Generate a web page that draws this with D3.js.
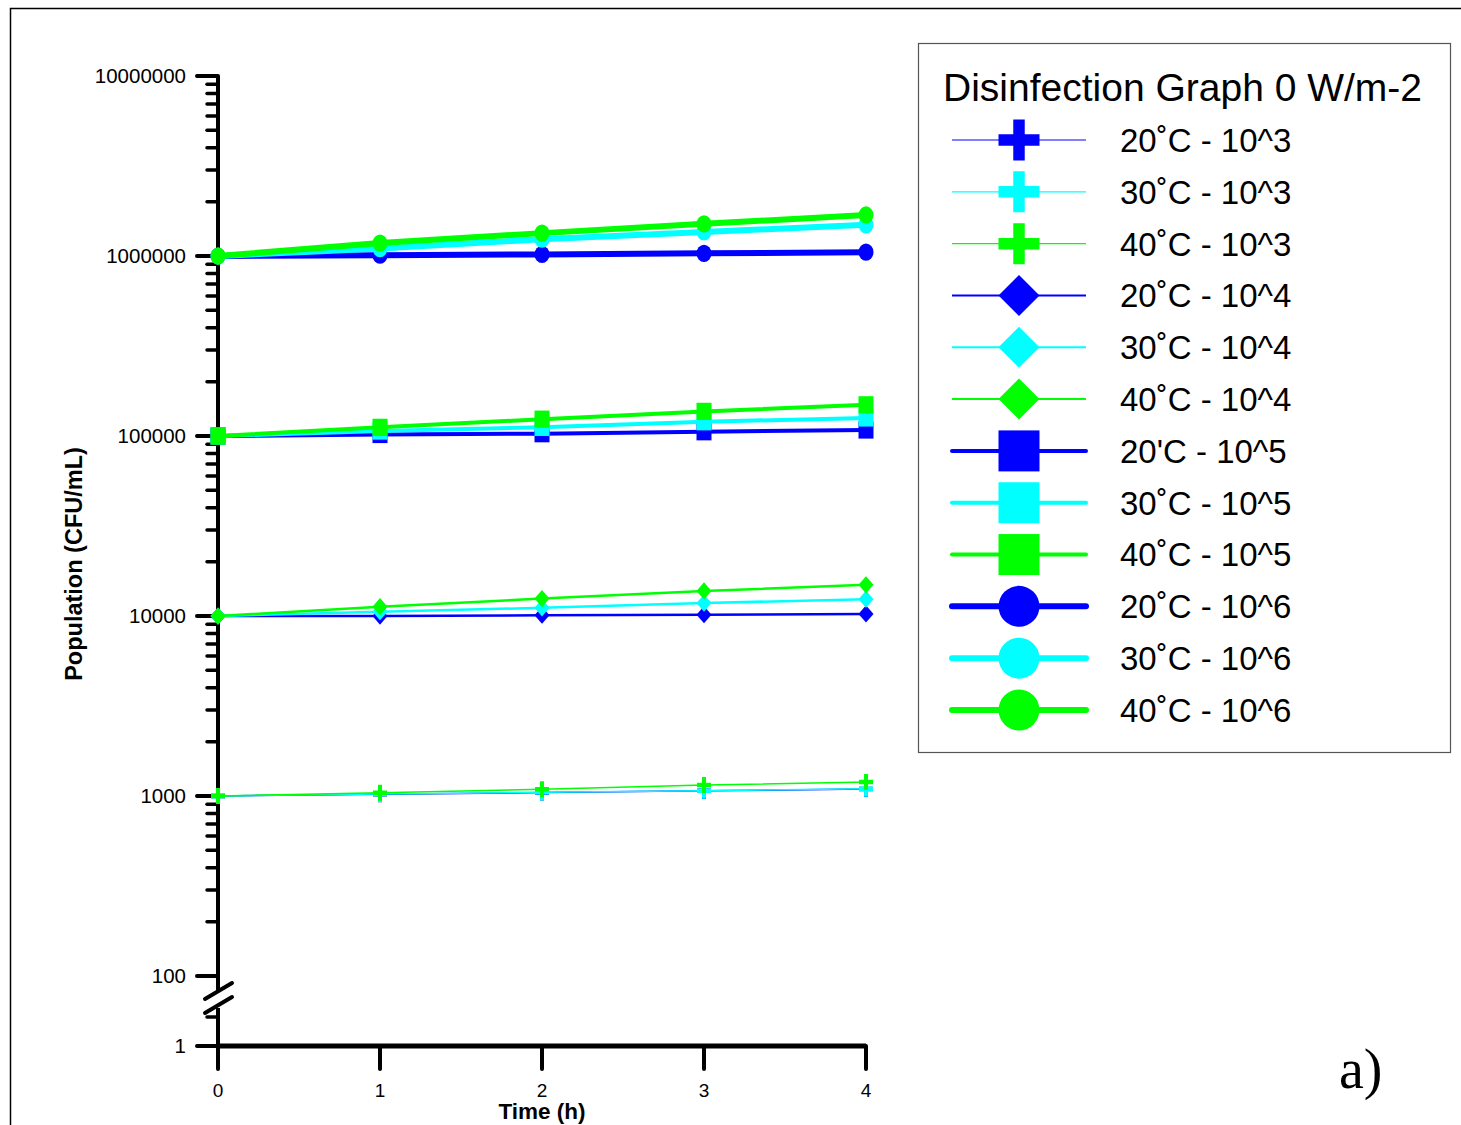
<!DOCTYPE html>
<html>
<head>
<meta charset="utf-8">
<script src="https://cdn.jsdelivr.net/npm/d3@7"></script>
<style>
  body { margin: 0; background: #fff; }
  svg { display: block; font-family: "Liberation Sans", Arial, sans-serif; }
</style>
</head>
<body>
<svg id="chart" width="1461" height="1125"></svg>
<script>
// data
const hours = [0, 1, 2, 3, 4];
const yTicks = [100, 1000, 10000, 100000, 1000000, 10000000];
const lowTicks = [1];

const c20_3 = [1000, 1022, 1045, 1068, 1095];
const c30_3 = [1000, 1026, 1048, 1070, 1098];
const c40_3 = [1000, 1043, 1090, 1150, 1196];
const c20_4 = [10000, 10000, 10100, 10170, 10260];
const c30_4 = [10000, 10570, 11100, 11800, 12400];
const c40_4 = [10000, 11260, 12500, 13770, 14900];
const c20_5 = [100000, 102000, 103000, 105600, 108000];
const c30_5 = [100000, 106600, 111700, 120000, 126000];
const c40_5 = [100000, 111700, 124000, 137000, 149000];
const c20_6 = [1000000, 1010000, 1020000, 1035000, 1050000];
const c30_6 = [1000000, 1100000, 1240000, 1360000, 1490000];
const c40_6 = [1000000, 1180000, 1340000, 1510000, 1690000];

const labels = ["20˚C - 10^3", "30˚C - 10^3", "40˚C - 10^3",
                "20˚C - 10^4", "30˚C - 10^4", "40˚C - 10^4",
                "20'C - 10^5", "30˚C - 10^5", "40˚C - 10^5",
                "20˚C - 10^6", "30˚C - 10^6", "40˚C - 10^6"];

const blue = "#0000ff", cyan = "#00ffff", green = "#00ff00";

const series = [
  { vals: c20_3, color: blue,  shape: "cross",   lw: 1.5, lgw: 1.2 },
  { vals: c30_3, color: cyan,  shape: "cross",   lw: 1.5, lgw: 1.2 },
  { vals: c40_3, color: green, shape: "cross",   lw: 1.5, lgw: 1.2 },
  { vals: c20_4, color: blue,  shape: "diamond", lw: 2.5, lgw: 2 },
  { vals: c30_4, color: cyan,  shape: "diamond", lw: 2.5, lgw: 2 },
  { vals: c40_4, color: green, shape: "diamond", lw: 2.5, lgw: 2 },
  { vals: c20_5, color: blue,  shape: "square",  lw: 4,   lgw: 4 },
  { vals: c30_5, color: cyan,  shape: "square",  lw: 4,   lgw: 4 },
  { vals: c40_5, color: green, shape: "square",  lw: 4,   lgw: 4 },
  { vals: c20_6, color: blue,  shape: "circle",  lw: 6,   lgw: 6 },
  { vals: c30_6, color: cyan,  shape: "circle",  lw: 6,   lgw: 6 },
  { vals: c40_6, color: green, shape: "circle",  lw: 6,   lgw: 6 }
];
series.forEach((s, i) => s.label = labels[i]);

const svg = d3.select("#chart");

// outer frame
svg.append("path")
  .attr("d", "M10.5,1125 V8.5 H1461")
  .attr("fill", "none").attr("stroke", "#000").attr("stroke-width", 1.5);

const x = d3.scaleLinear().domain([0, 4]).range([218, 866]);
const y = d3.scaleLog().domain([100, 10000000]).range([976, 76]);
const yLow = d3.scaleLog().domain([1, 10]).range([1046, 950]);

const axisG = svg.append("g").attr("stroke", "#000").attr("stroke-linecap", "round");

// y axis, broken near the bottom
axisG.append("line").attr("x1", 218).attr("x2", 218)
  .attr("y1", y(10000000)).attr("y2", 992).attr("stroke-width", 4).attr("stroke-linecap", "butt");
axisG.append("line").attr("x1", 218).attr("x2", 218)
  .attr("y1", 1008).attr("y2", 1068).attr("stroke-width", 4).attr("stroke-linecap", "butt");

// minor ticks (log)
const minor = [];
d3.range(2, 7).forEach(p => {
  d3.range(2, 10).forEach(m => minor.push(m * Math.pow(10, p)));
});
axisG.selectAll(".minor").data(minor).enter().append("line")
  .attr("x1", 207).attr("x2", 218)
  .attr("y1", d => y(d)).attr("y2", d => y(d))
  .attr("stroke-width", 3.5);
axisG.append("line")
  .attr("x1", 207).attr("x2", 218)
  .attr("y1", yLow(2)).attr("y2", yLow(2))
  .attr("stroke-width", 3.5);

// major ticks
axisG.selectAll(".major").data(yTicks).enter().append("line")
  .attr("x1", 197).attr("x2", 218)
  .attr("y1", d => y(d)).attr("y2", d => y(d))
  .attr("stroke-width", 4);
axisG.selectAll(".lowmajor").data(lowTicks).enter().append("line")
  .attr("x1", 197).attr("x2", 218)
  .attr("y1", d => yLow(d)).attr("y2", d => yLow(d))
  .attr("stroke-width", 4);

// break marks
axisG.append("line").attr("x1", 205).attr("y1", 999).attr("x2", 232).attr("y2", 983).attr("stroke-width", 4);
axisG.append("line").attr("x1", 205).attr("y1", 1013).attr("x2", 232).attr("y2", 997).attr("stroke-width", 4);

// x axis
axisG.append("line").attr("x1", 218).attr("x2", 866)
  .attr("y1", 1046).attr("y2", 1046).attr("stroke-width", 5).attr("stroke-linecap", "butt");
axisG.selectAll(".xt").data(hours).enter().append("line")
  .attr("x1", d => x(d)).attr("x2", d => x(d))
  .attr("y1", 1046).attr("y2", 1069).attr("stroke-width", 4);

// tick labels
const fmt = d => String(d);
svg.selectAll(".ylab").data(yTicks).enter().append("text")
  .attr("x", 186).attr("y", d => y(d)).attr("dy", "0.35em")
  .attr("text-anchor", "end").attr("font-size", 20.5).text(fmt);
svg.selectAll(".ylowlab").data(lowTicks).enter().append("text")
  .attr("x", 186).attr("y", d => yLow(d)).attr("dy", "0.35em")
  .attr("text-anchor", "end").attr("font-size", 20.5).text(fmt);
svg.selectAll(".xlab").data(hours).enter().append("text")
  .attr("x", d => x(d)).attr("y", 1090).attr("dy", "0.35em")
  .attr("text-anchor", "middle").attr("font-size", 19).text(fmt);

svg.append("text").attr("x", 542).attr("y", 1119)
  .attr("text-anchor", "middle").attr("font-size", 22.5).attr("font-weight", "bold")
  .text("Time (h)");
svg.append("text")
  .attr("transform", "translate(82,564) rotate(-90)")
  .attr("text-anchor", "middle").attr("font-size", 23.5).attr("font-weight", "bold")
  .text("Population (CFU/mL)");

// marker drawing
function marker(g, shape, color, size) {
  const h = size / 2;
  if (shape === "cross") {
    const t = size * 0.14;
    g.append("path")
      .attr("d", `M${-t},${-h} H${t} V${-t} H${h} V${t} H${t} V${h} H${-t} V${t} H${-h} V${-t} H${-t} Z`)
      .attr("fill", color);
  } else if (shape === "diamond") {
    g.append("path").attr("d", `M0,${-h} L${h},0 L0,${h} L${-h},0 Z`).attr("fill", color);
  } else if (shape === "square") {
    g.append("rect").attr("x", -h).attr("y", -h).attr("width", size).attr("height", size).attr("fill", color);
  } else {
    g.append("circle").attr("r", h).attr("fill", color);
  }
}

const line = d3.line().x((d, i) => x(hours[i])).y(d => y(d));
const plot = svg.append("g");
series.forEach(s => {
  plot.append("path").datum(s.vals)
    .attr("d", line).attr("fill", "none")
    .attr("stroke", s.color).attr("stroke-width", s.lw);
  s.vals.forEach((v, i) => {
    const g = plot.append("g")
      .attr("transform", `translate(${x(hours[i])},${y(v)}) scale(1,1.15)`);
    marker(g, s.shape, s.color, s.shape === "cross" ? 14 : 15);
  });
});

// legend
const lg = svg.append("g");
lg.append("rect").attr("x", 918.5).attr("y", 43.5).attr("width", 532).attr("height", 709)
  .attr("fill", "#fff").attr("stroke", "#555").attr("stroke-width", 1.2);
lg.append("text").attr("x", 943).attr("y", 101).attr("font-size", 39)
  .text("Disinfection Graph 0 W/m-2");

const rowY = d3.scaleLinear().domain([0, 11]).range([140, 710]);
series.forEach((s, i) => {
  const ry = rowY(i);
  lg.append("line").attr("x1", 952).attr("x2", 1086).attr("y1", ry).attr("y2", ry)
    .attr("stroke", s.color).attr("stroke-width", s.lgw)
    .attr("stroke-linecap", s.lgw > 3 ? "round" : "butt");
  const g = lg.append("g").attr("transform", `translate(1019,${ry})`);
  marker(g, s.shape, s.color, 41);
  lg.append("text").attr("x", 1120).attr("y", ry).attr("dy", "0.36em")
    .attr("font-size", 33).text(s.label);
});

svg.append("text").attr("x", 1339).attr("y", 1088)
  .attr("font-family", "'Liberation Serif', 'Times New Roman', serif")
  .attr("font-size", 56).text("a)");
</script>
</body>
</html>
